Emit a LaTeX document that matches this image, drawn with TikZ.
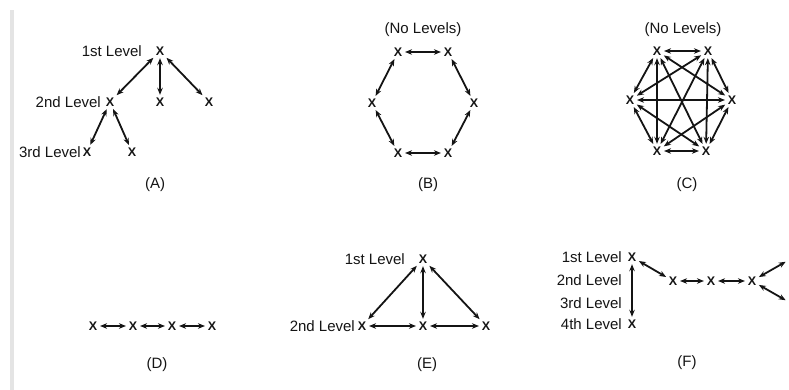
\documentclass[tikz,border=0pt]{standalone}
\usepackage{fontspec}
\setmainfont{Liberation Sans}
\usetikzlibrary{positioning, arrows.meta}
\definecolor{orgInk}{HTML}{141414}
\definecolor{orgEdge}{HTML}{E4E4E4}
\tikzset{
  pt/.style={inner sep=1.2pt, font=\fontsize{12.5}{14}\selectfont\bfseries, text=orgInk},
  lvl/.style={anchor=east, inner sep=0pt, font=\fontsize{15}{18}\selectfont, text=orgInk},
  tag/.style={inner sep=0pt, font=\fontsize{15}{18}\selectfont, text=orgInk},
  link/.style={{Stealth[length=7pt,width=5.5pt]}-{Stealth[length=7pt,width=5.5pt]},
               line width=1.8pt, draw=orgInk, shorten >=1.5pt, shorten <=1.5pt}
}

\begin{document}
\begin{tikzpicture}[x=1pt, y=-1pt]
    \useasboundingbox (0,0) rectangle (789,390);
    \fill[orgEdge] (10,10) rectangle (14,390);

    % (A) tree
    \node[pt] (a1) at (160,51) {X};
    \node[pt] (a2) at (110,102) {X};
    \node[pt] (a3) at (160,102) {X};
    \node[pt] (a4) at (209,102) {X};
    \node[pt] (a5) at (87,152) {X};
    \node[pt] (a6) at (132,152) {X};
    \node[lvl] (a1lab) at (142,51) {1st Level};
    \node[lvl] (a2lab) at (101,102) {2nd Level};
    \node[lvl] (a5lab) at (81,152) {3rd Level};
    \node[tag] (acap) at (155,185) {(A)};
    \draw[link] (a1) -- (a2);
    \draw[link] (a1) -- (a3);
    \draw[link] (a1) -- (a4);
    \draw[link] (a2) -- (a5);
    \draw[link] (a2) -- (a6);

    % (B) ring
    \node[tag] (btitle) at (423,30) {(No Levels)};
    \node[pt] (b1) at (398,52) {X};
    \node[pt] (b2) at (448,52) {X};
    \node[pt] (b3) at (474,103) {X};
    \node[pt] (b4) at (448,153) {X};
    \node[pt] (b5) at (398,153) {X};
    \node[pt] (b6) at (372,103) {X};
    \node[tag] (bcap) at (428,185) {(B)};
    \draw[link] (b1) -- (b2);
    \draw[link] (b2) -- (b3);
    \draw[link] (b3) -- (b4);
    \draw[link] (b4) -- (b5);
    \draw[link] (b5) -- (b6);
    \draw[link] (b6) -- (b1);

    % (C) all channels
    \node[tag] (ctitle) at (683,30) {(No Levels)};
    \node[pt] (c1) at (657,51) {X};
    \node[pt] (c2) at (708,51) {X};
    \node[pt] (c3) at (732,100) {X};
    \node[pt] (c4) at (706,151) {X};
    \node[pt] (c5) at (657,151) {X};
    \node[pt] (c6) at (630,100) {X};
    \node[tag] (ccap) at (687,185) {(C)};
    \draw[link] (c1) -- (c2);
    \draw[link] (c1) -- (c3);
    \draw[link] (c1) -- (c4);
    \draw[link] (c1) -- (c5);
    \draw[link] (c1) -- (c6);
    \draw[link] (c2) -- (c3);
    \draw[link] (c2) -- (c4);
    \draw[link] (c2) -- (c5);
    \draw[link] (c2) -- (c6);
    \draw[link] (c3) -- (c4);
    \draw[link] (c3) -- (c5);
    \draw[link] (c3) -- (c6);
    \draw[link] (c4) -- (c5);
    \draw[link] (c4) -- (c6);
    \draw[link] (c5) -- (c6);

    % (D) chain
    \node[pt] (d1) at (93,326) {X};
    \node[pt] (d2) at (133,326) {X};
    \node[pt] (d3) at (172,326) {X};
    \node[pt] (d4) at (212,326) {X};
    \node[tag] (dcap) at (157,365) {(D)};
    \draw[link] (d1) -- (d2);
    \draw[link] (d2) -- (d3);
    \draw[link] (d3) -- (d4);

    % (E) two levels
    \node[pt] (e1) at (423,259) {X};
    \node[pt] (e2) at (362,326) {X};
    \node[pt] (e3) at (423,326) {X};
    \node[pt] (e4) at (486,326) {X};
    \node[lvl] (e1lab) at (405,259) {1st Level};
    \node[lvl] (e2lab) at (355,326) {2nd Level};
    \node[tag] (ecap) at (427,365) {(E)};
    \draw[link] (e1) -- (e2);
    \draw[link] (e1) -- (e3);
    \draw[link] (e1) -- (e4);
    \draw[link] (e2) -- (e3);
    \draw[link] (e3) -- (e4);

    % (F) four levels
    \node[pt] (f1) at (632,257) {X};
    \node[pt] (f2) at (632,324) {X};
    \node[pt] (f3) at (673,281) {X};
    \node[pt] (f4) at (711,281) {X};
    \node[pt] (f5) at (752,281) {X};
    \coordinate (f6) at (787,261);
    \coordinate (f7) at (787,301);
    \node[lvl] (f1lab) at (622,257) {1st Level};
    \node[lvl] (f2lab) at (622,280) {2nd Level};
    \node[lvl] (f3lab) at (622,303) {3rd Level};
    \node[lvl] (f4lab) at (622,324) {4th Level};
    \node[tag] (fcap) at (687,363) {(F)};
    \draw[link] (f1) -- (f2);
    \draw[link] (f1) -- (f3);
    \draw[link] (f3) -- (f4);
    \draw[link] (f4) -- (f5);
    \draw[link] (f5) -- (f6);
    \draw[link] (f5) -- (f7);
\end{tikzpicture}
\end{document}
